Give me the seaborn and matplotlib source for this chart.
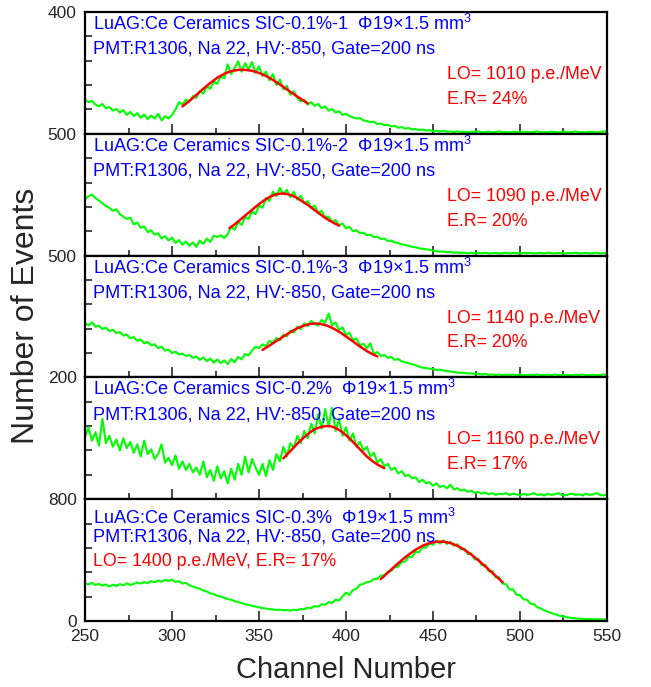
"""
LuAG:Ce ceramics - Na-22 pulse height spectra, five stacked panels.
"""

import matplotlib
matplotlib.use("Agg")  # non-interactive backend
import matplotlib.pyplot as plt
import numpy as np
import seaborn as sns

# ---------------------------------------------------------------- data
CHANNELS = list(range(250, 551, 2))

SPEC_01_1 = [
    112, 104, 108, 96, 90, 98, 84, 88, 76, 82,
    70, 78, 62, 72, 58, 68, 52, 64, 48, 60,
    50, 66, 44, 58, 50, 62, 80, 104, 96, 112,
    106, 124, 118, 140, 132, 156, 148, 172, 164, 190,
    182, 228, 196, 216, 238, 204, 232, 212, 236, 200,
    222, 190, 204, 176, 196, 160, 178, 146, 158, 128,
    140, 118, 106, 112, 96, 104, 92, 98, 84, 90,
    76, 82, 70, 74, 62, 66, 58, 54, 50, 52,
    44, 42, 38, 40, 32, 34, 28, 30, 24, 26,
    20, 22, 17, 19, 14, 16, 12, 14, 11, 12,
    9, 10, 8, 10, 7, 8, 6, 8, 6, 7,
    5, 7, 6, 8, 5, 6, 7, 5, 6, 8,
    5, 6, 5, 7, 6, 5, 7, 6, 5, 6,
    8, 5, 6, 5, 7, 6, 5, 6, 7, 5,
    6, 8, 5, 6, 5, 7, 6, 5, 6, 8,
    7,
]
SPEC_01_2 = [
    232, 244, 250, 236, 226, 214, 204, 196, 184, 190,
    170, 160, 150, 156, 128, 136, 114, 120, 96, 104,
    86, 92, 70, 80, 62, 74, 52, 64, 44, 58,
    40, 54, 36, 62, 48, 70, 56, 82, 76, 84,
    72, 88, 120, 106, 138, 126, 160, 150, 182, 170,
    206, 196, 236, 224, 262, 244, 278, 252, 270, 240,
    262, 230, 246, 214, 224, 196, 206, 174, 184, 156,
    160, 138, 146, 124, 132, 112, 118, 100, 104, 92,
    94, 84, 86, 76, 78, 68, 70, 60, 62, 54,
    52, 46, 44, 40, 36, 34, 30, 28, 26, 24,
    20, 18, 16, 17, 14, 15, 12, 13, 11, 12,
    10, 12, 9, 11, 10, 12, 9, 10, 11, 9,
    10, 12, 9, 11, 10, 9, 11, 10, 12, 9,
    10, 11, 9, 12, 10, 9, 11, 10, 9, 11,
    10, 12, 9, 10, 11, 9, 10, 12, 9, 10,
    11,
]
SPEC_01_3 = [
    222, 214, 226, 208, 212, 198, 204, 190, 196, 182,
    186, 172, 176, 160, 166, 150, 156, 140, 146, 132,
    136, 120, 126, 110, 114, 100, 106, 94, 98, 88,
    92, 80, 86, 72, 82, 66, 78, 60, 74, 58,
    70, 54, 76, 62, 84, 74, 96, 90, 110, 126,
    120, 136, 128, 150, 142, 162, 152, 176, 168, 192,
    184, 208, 198, 222, 210, 232, 220, 212, 236, 224,
    262, 214, 226, 194, 206, 172, 184, 152, 160, 132,
    138, 120, 140, 96, 104, 88, 92, 80, 84, 72,
    76, 66, 62, 58, 54, 50, 44, 40, 38, 36,
    34, 30, 32, 28, 26, 24, 22, 20, 18, 19,
    16, 17, 14, 15, 12, 14, 11, 12, 10, 12,
    9, 11, 10, 12, 9, 11, 10, 9, 11, 10,
    12, 9, 10, 11, 9, 12, 10, 9, 11, 10,
    9, 11, 10, 12, 9, 10, 11, 9, 10, 12,
    10,
]
SPEC_02 = [
    102, 118, 96, 110, 88, 132, 92, 104, 86, 98,
    80, 100, 84, 94, 76, 90, 70, 96, 74, 82,
    66, 74, 90, 60, 68, 56, 72, 50, 62, 48,
    58, 44, 52, 40, 62, 36, 48, 30, 54, 34,
    46, 26, 50, 32, 58, 40, 70, 44, 66, 52,
    40, 58, 38, 64, 48, 74, 62, 86, 70, 92,
    84, 104, 92, 112, 100, 124, 108, 140, 116, 148,
    120, 150, 112, 132, 104, 118, 96, 108, 86, 94,
    80, 86, 70, 76, 60, 66, 54, 58, 48, 52,
    42, 46, 38, 40, 34, 36, 28, 32, 26, 28,
    22, 26, 20, 22, 18, 24, 16, 18, 14, 16,
    12, 14, 10, 12, 9, 11, 8, 10, 7, 9,
    8, 10, 7, 9, 8, 6, 9, 7, 8, 10,
    7, 8, 6, 9, 7, 8, 10, 7, 6, 8,
    9, 7, 8, 6, 9, 7, 8, 10, 7, 6,
    8,
]
SPEC_03 = [
    246, 240, 250, 236, 244, 232, 240, 226, 238, 230,
    242, 234, 248, 236, 244, 252, 246, 256, 248, 262,
    254, 266, 258, 270, 262, 272, 256, 262, 246, 250,
    234, 226, 218, 212, 200, 194, 182, 176, 166, 160,
    152, 144, 140, 130, 124, 118, 110, 106, 100, 94,
    90, 84, 82, 78, 76, 72, 74, 70, 72, 68,
    74, 70, 80, 76, 88, 84, 98, 94, 110, 106,
    124, 118, 140, 134, 162, 186, 170, 204, 212, 238,
    244, 256, 258, 276, 276, 298, 300, 324, 328, 354,
    356, 388, 390, 424, 420, 454, 452, 486, 482, 508,
    500, 528, 508, 530, 506, 520, 494, 504, 470, 476,
    440, 444, 404, 410, 366, 370, 326, 330, 286, 288,
    246, 242, 206, 208, 172, 170, 142, 140, 114, 110,
    90, 82, 70, 60, 52, 44, 38, 30, 28, 22,
    20, 17, 15, 14, 12, 13, 11, 12, 10, 11,
    10,
]

# red Gaussian fits
FIT_01_1_X = [306, 310, 314, 318, 322, 326, 330, 334, 338, 342,
              346, 350, 354, 358, 362, 366, 370, 374, 378]
FIT_01_1_Y = [90, 108, 128, 148, 167, 184, 197, 206, 210, 210,
              207, 200, 190, 177, 162, 146, 130, 115, 100]
FIT_01_2_X = [333, 336, 339, 342, 345, 348, 351, 354, 357, 360, 363,
              366, 369, 372, 375, 378, 381, 384, 387, 390, 393, 396]
FIT_01_2_Y = [113, 128, 146, 164, 182, 200, 217, 232, 244, 252, 255,
              253, 247, 236, 222, 208, 192, 176, 160, 146, 134, 123]
FIT_01_3_X = [352, 355, 358, 361, 364, 367, 370, 373, 376, 379, 382,
              385, 388, 391, 394, 397, 400, 403, 406, 409, 412, 415, 418]
FIT_01_3_Y = [113, 126, 140, 154, 168, 181, 194, 205, 213, 219, 221,
              220, 215, 207, 196, 183, 168, 153, 137, 122, 108, 96, 86]
FIT_02_X = [364, 367, 370, 373, 376, 379, 382, 385, 388, 391,
            394, 397, 400, 403, 406, 409, 412, 415, 418, 422]
FIT_02_Y = [67, 76, 85, 94, 102, 109, 115, 118, 120, 120,
            117, 112, 105, 97, 88, 79, 70, 63, 57, 51]
FIT_03_X = [420, 424, 428, 432, 436, 440, 444, 448, 452, 456,
            460, 464, 468, 472, 476, 480, 484, 488, 490]
FIT_03_Y = [275, 317, 359, 399, 436, 468, 494, 512, 521, 521,
            512, 494, 468, 436, 399, 359, 317, 276, 254]

SAMPLES = ["SIC-0.1%-1", "SIC-0.1%-2", "SIC-0.1%-3", "SIC-0.2%", "SIC-0.3%"]
LIGHT_OUTPUT = [1010, 1090, 1140, 1160, 1400]
ENERGY_RES = [24, 20, 20, 17, 17]
Y_TOPS = [400, 500, 500, 200, 800]

SPECTRA = [SPEC_01_1, SPEC_01_2, SPEC_01_3, SPEC_02, SPEC_03]
FITS = [(FIT_01_1_X, FIT_01_1_Y), (FIT_01_2_X, FIT_01_2_Y),
        (FIT_01_3_X, FIT_01_3_Y), (FIT_02_X, FIT_02_Y), (FIT_03_X, FIT_03_Y)]

# ---------------------------------------------------------------- style
sns.set_style("ticks")
plt.rcParams.update({
    "font.family": ["Liberation Sans", "DejaVu Sans"],
    "mathtext.fontset": "custom",
    "mathtext.rm": "Liberation Sans",
    "axes.linewidth": 1.5,
})

GREEN = "#00ff00"
RED = "#ff0000"
BLUE = "#0000ff"
TXT = 13.1
TXT_RED = 12.8

fig, axes = plt.subplots(5, 1, figsize=(6.51, 6.87), dpi=100, sharex=True)
fig.subplots_adjust(left=0.1306, right=0.9324, top=0.9825, bottom=0.0961,
                    hspace=0)

n = len(axes)
for i, ax in enumerate(axes):
    sns.lineplot(x=CHANNELS, y=SPECTRA[i], ax=ax, color=GREEN, lw=1.5,
                 estimator=None, sort=False)
    fx, fy = FITS[i]
    sns.lineplot(x=fx, y=fy, ax=ax, color=RED, lw=1.8, estimator=None)

    top = Y_TOPS[i]
    ax.set_xlim(250, 550)
    ax.set_ylim(0, top)
    ax.set_yticks(np.linspace(0, top, 6))
    labels = [""] * 6
    labels[-1] = f"{top}"
    if i == n - 1:
        labels[0] = "0"
    ax.set_yticklabels(labels)

    ax.set_xticks(range(250, 551, 50))
    ax.set_xticks(range(275, 550, 50), minor=True)
    ax.tick_params(axis="x", which="major", direction="in", length=7,
                   width=1.2, top=False, labelsize=12.5, pad=6)
    ax.tick_params(axis="x", which="minor", direction="in", length=4,
                   width=1.2, top=False)
    ax.tick_params(axis="y", which="major", direction="in", length=5,
                   width=1.2, right=False, labelsize=12.5, pad=6)
    for sp in ax.spines.values():
        sp.set_visible(True)
        sp.set_linewidth(1.6)
        sp.set_color("black")
    ax.set_xlabel("")
    ax.set_ylabel("")

    title = (f"LuAG:Ce Ceramics {SAMPLES[i]}  \u03a619\u00d71.5 mm$^{{3}}$")
    setup = "PMT:R1306, Na 22, HV:-850, Gate=200 ns"
    if i < n - 1:
        ax.text(0.015, 0.852, title, transform=ax.transAxes, color=BLUE,
                fontsize=TXT, va="baseline")
        ax.text(0.015, 0.656, setup, transform=ax.transAxes, color=BLUE,
                fontsize=TXT, va="baseline")
        ax.text(0.693, 0.45, f"LO= {LIGHT_OUTPUT[i]} p.e./MeV",
                transform=ax.transAxes, color=RED, fontsize=TXT_RED,
                va="baseline")
        ax.text(0.693, 0.246, f"E.R= {ENERGY_RES[i]}%",
                transform=ax.transAxes, color=RED, fontsize=TXT_RED,
                va="baseline")
    else:
        ax.text(0.015, 0.80, title, transform=ax.transAxes, color=BLUE,
                fontsize=TXT, va="baseline")
        ax.text(0.015, 0.655, setup, transform=ax.transAxes, color=BLUE,
                fontsize=TXT, va="baseline")
        ax.text(0.015, 0.455,
                f"LO= {LIGHT_OUTPUT[i]} p.e./MeV, E.R= {ENERGY_RES[i]}%",
                transform=ax.transAxes, color=RED, fontsize=TXT_RED,
                va="baseline")

fig.text(0.040, 0.54, "Number of Events", rotation=90, ha="center",
         va="center", fontsize=23)
fig.text(0.532, 1 - 678 / 687, "Channel Number", ha="center",
         va="baseline", fontsize=21)

fig.savefig("out.png", dpi=100)
plt.close(fig)
